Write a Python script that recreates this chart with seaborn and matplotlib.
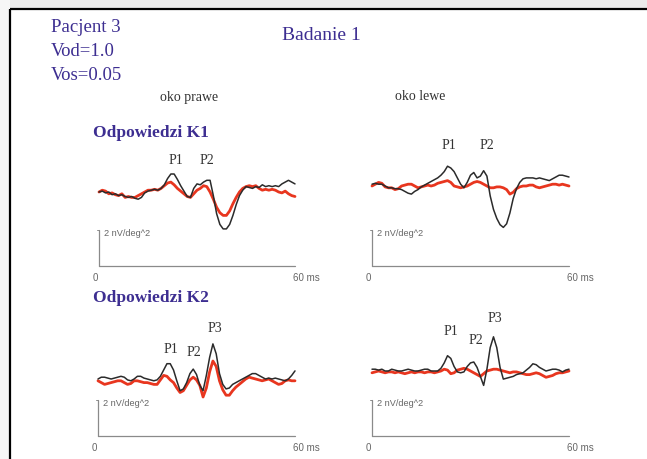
import numpy as np
import pandas as pd
import matplotlib
matplotlib.use("Agg")
import matplotlib.pyplot as plt
import seaborn as sns

# ---------------- data (nV/deg^2, one value per ms, 0..60 ms) ----------------
time_ms = list(range(61))

k1_right_black = [0.0, 0.05, -0.05, 0.0, -0.15, -0.1, -0.2, -0.15, -0.25, -0.3,
                  -0.25, -0.35, -0.4, -0.3, -0.05, 0.05, 0.1, 0.15, 0.1, 0.2,
                  0.4, 0.75, 1.0, 1.0, 0.7, 0.35, 0.05, -0.25, -0.3, 0.2,
                  0.45, 0.4, 0.55, 0.65, 0.65, -0.2, -1.2, -1.8, -2.05, -2.05,
                  -1.8, -1.3, -0.7, -0.2, 0.1, 0.3, 0.25, 0.2, 0.3, 0.25,
                  0.4, 0.3, 0.35, 0.3, 0.35, 0.3, 0.45, 0.55, 0.65, 0.55, 0.45]
k1_right_red = [0.0, 0.1, 0.05, -0.1, -0.05, -0.15, -0.2, -0.1, -0.3, -0.25,
                -0.3, -0.3, -0.2, -0.1, 0.0, 0.1, 0.1, 0.15, 0.1, 0.2,
                0.35, 0.5, 0.55, 0.4, 0.2, 0.05, -0.1, -0.25, -0.3, -0.1,
                0.1, 0.2, 0.35, 0.3, 0.0, -0.4, -0.85, -1.15, -1.3, -1.3,
                -1.05, -0.65, -0.3, 0.0, 0.2, 0.3, 0.35, 0.3, 0.35, 0.2,
                0.1, 0.15, 0.1, 0.15, 0.1, 0.0, -0.05, 0.05, -0.1, -0.2, -0.25]
k1_left_black = [0.1, 0.15, 0.1, 0.1, 0.0, -0.1, -0.1, -0.15, -0.15, -0.2,
                 -0.3, -0.4, -0.45, -0.3, -0.2, -0.05, 0.05, 0.15, 0.25, 0.35,
                 0.45, 0.6, 0.8, 1.1, 1.0, 0.8, 0.45, 0.1, -0.1, 0.2,
                 0.6, 0.75, 0.45, 0.55, 0.85, 0.55, -0.55, -1.3, -1.8, -2.15,
                 -2.3, -2.1, -1.5, -0.7, -0.15, 0.2, 0.4, 0.45, 0.45, 0.45,
                 0.4, 0.45, 0.4, 0.35, 0.3, 0.4, 0.5, 0.6, 0.6, 0.55, 0.5]
k1_left_red = [0.0, 0.1, 0.2, 0.15, -0.05, -0.1, -0.1, -0.2, -0.15, 0.0,
               0.05, 0.1, 0.1, 0.0, -0.1, -0.05, 0.0, 0.05, 0.0, 0.05,
               0.15, 0.2, 0.25, 0.3, 0.2, 0.0, -0.05, -0.1, -0.05, 0.0,
               0.1, 0.2, 0.25, 0.2, 0.1, 0.0, -0.1, -0.1, -0.05, -0.05,
               -0.1, -0.2, -0.45, -0.35, -0.15, -0.05, 0.0, 0.0, 0.05, 0.05,
               -0.05, -0.1, -0.05, 0.0, 0.05, 0.1, 0.1, 0.05, 0.1, 0.05, 0.0]
k2_right_black = [0.0, 0.1, 0.1, 0.05, 0.0, 0.05, 0.1, 0.15, 0.1, -0.05,
                  -0.1, 0.0, 0.15, 0.15, 0.05, 0.0, -0.05, -0.1, -0.05, 0.15,
                  0.5, 0.85, 0.85, 0.5, -0.1, -0.65, -0.55, -0.2, 0.3, 0.55,
                  0.25, -0.35, -0.65, 0.2, 1.2, 1.95, 1.4, 0.3, -0.3, -0.55,
                  -0.5, -0.3, -0.2, -0.1, 0.0, 0.1, 0.2, 0.3, 0.3, 0.2,
                  0.1, 0.0, 0.05, 0.0, 0.05, 0.0, -0.05, -0.1, 0.0, 0.2, 0.45]
k2_right_red = [-0.1, -0.2, -0.3, -0.25, -0.2, -0.15, -0.1, -0.1, -0.2, -0.3,
                -0.25, -0.1, -0.1, -0.15, -0.2, -0.2, -0.25, -0.3, -0.3, -0.05,
                0.2, 0.15, -0.05, -0.2, -0.5, -0.75, -0.65, -0.35, -0.05, 0.1,
                -0.05, -0.35, -1.0, -0.5, 0.4, 1.0, 0.7, -0.1, -0.6, -0.9,
                -0.9, -0.65, -0.45, -0.3, -0.15, 0.0, 0.1, 0.05, 0.0, -0.05,
                -0.1, -0.05, 0.0, -0.1, -0.2, -0.3, -0.25, -0.1, -0.05, -0.1, -0.1]
k2_left_black = [0.1, 0.1, 0.05, 0.1, 0.0, 0.0, 0.1, 0.05, 0.0, 0.0,
                 0.05, 0.1, 0.05, 0.0, 0.0, 0.05, 0.1, 0.1, 0.0, 0.0,
                 0.0, 0.15, 0.45, 0.85, 0.7, 0.25, -0.05, -0.1, -0.05, 0.25,
                 0.45, 0.5, 0.2, -0.3, -0.8, 0.1, 1.3, 1.9, 1.3, 0.2,
                 -0.45, -0.4, -0.35, -0.3, -0.2, -0.15, -0.1, 0.05, 0.2, 0.4,
                 0.35, 0.2, 0.1, 0.0, 0.05, 0.1, 0.1, 0.05, -0.05, 0.05, 0.1]
k2_left_red = [-0.1, -0.05, 0.0, -0.05, -0.1, -0.05, -0.05, -0.1, -0.05, -0.1,
               -0.15, -0.1, -0.05, -0.1, -0.05, -0.05, -0.1, -0.05, -0.05, -0.1,
               -0.05, 0.0, 0.1, 0.05, -0.15, -0.1, 0.05, 0.1, 0.15, 0.1,
               0.0, -0.1, -0.2, -0.3, -0.15, 0.0, 0.05, 0.1, 0.1, 0.05,
               0.0, -0.05, -0.1, -0.05, -0.05, -0.1, -0.15, -0.2, -0.2, -0.15,
               -0.1, -0.15, -0.25, -0.35, -0.3, -0.25, -0.15, -0.1, -0.1, -0.05, 0.0]

peak_labels_k1 = ["P1", "P2"]
peak_labels_k2 = ["P1", "P2", "P3"]
scale_label = "2 nV/deg^2"
axis_start_label = "0"
axis_end_label = "60 ms"

# ---------------- layout ----------------
W, H = 647, 460
UPP = 18.0  # pixels per nV/deg^2 unit
RED = "#e8361f"
BLACK = "#2b2b2b"
PURPLE = "#3d2e91"
SERIF = ["Liberation Serif", "DejaVu Serif"]
SANS = ["Liberation Sans", "DejaVu Sans"]

sns.set_theme(style="white")
plt.rcParams["font.family"] = SANS

fig = plt.figure(figsize=(W / 100, H / 100), dpi=100)
fig.patch.set_facecolor("white")

# background axes in pixel coordinates for frame & text
bg = fig.add_axes([0, 0, 1, 1])
bg.set_xlim(0, W)
bg.set_ylim(H, 0)
bg.axis("off")
bg.add_patch(plt.Rectangle((0, 0), W, 9.5, color="#ebebeb", lw=0, zorder=0))
bg.add_patch(plt.Rectangle((0, 0), 9.5, H, color="#f6f6f6", lw=0, zorder=0))
bg.plot([10, W], [10, 10], color="black", lw=1.6, solid_capstyle="butt")
bg.plot([10, 10], [10, H], color="black", lw=1.6, solid_capstyle="butt")

bg.text(51, 27, "Pacjent 3", family=SERIF, fontsize=13.5, color=PURPLE, va="center", ha="left")
bg.text(51, 51, "Vod=1.0", family=SERIF, fontsize=13.5, color=PURPLE, va="center", ha="left")
bg.text(51, 75, "Vos=0.05", family=SERIF, fontsize=13.5, color=PURPLE, va="center", ha="left")
bg.text(321, 36, "Badanie 1", family=SERIF, fontsize=14, color=PURPLE, va="center", ha="center")
bg.text(189, 97, "oko prawe", family=SERIF, fontsize=10, color="#333333", va="center", ha="center")
bg.text(420, 97, "oko lewe", family=SERIF, fontsize=10, color="#333333", va="center", ha="center")
bg.text(93, 133, "Odpowiedzi K1", family=SERIF, fontsize=12.5, fontweight="bold", color=PURPLE, va="center", ha="left")
bg.text(93, 298, "Odpowiedzi K2", family=SERIF, fontsize=12.5, fontweight="bold", color=PURPLE, va="center", ha="left")

panels = [
    # x0, x60, baseline y, scale-bar bottom (units), black, red, labels, label px positions
    (99, 295, 193, -4.1, k1_right_black, k1_right_red, peak_labels_k1,
     [(176, 161), (207, 161)]),
    (372, 569, 187, -4.45, k1_left_black, k1_left_red, peak_labels_k1,
     [(449, 146), (487, 146)]),
    (98, 295, 380, -3.15, k2_right_black, k2_right_red, peak_labels_k2,
     [(171, 350), (194, 353), (215, 329)]),
    (372, 569, 372, -3.6, k2_left_black, k2_left_red, peak_labels_k2,
     [(451, 332), (476, 341), (495, 319)]),
]

for x0, x60, base, bar_bot, blk, red, labels, lpos in panels:
    ppm = (x60 - x0) / 60.0
    left = x0 - 3 * ppm
    width = 66 * ppm
    top = base - 3 * UPP
    height = 8 * UPP
    ax = fig.add_axes([left / W, 1 - (top + height) / H, width / W, height / H])
    ax.set_xlim(-3, 63)
    ax.set_ylim(-5, 3)
    ax.axis("off")
    ax.patch.set_alpha(0)

    df = pd.DataFrame({"t": time_ms, "black": blk, "red": red})
    sns.lineplot(data=df, x="t", y="red", ax=ax, color=RED, linewidth=2.0, zorder=2)
    sns.lineplot(data=df, x="t", y="black", ax=ax, color=BLACK, linewidth=1.1, zorder=3)

    bar_top = bar_bot + 2
    ax.plot([0, 0], [bar_bot, bar_top], color="#8a8a8a", lw=0.9)
    ax.plot([0, 60], [bar_bot, bar_bot], color="#8a8a8a", lw=0.9)
    ax.plot([-0.6, 0], [bar_top, bar_top], color="#8a8a8a", lw=0.7)
    ax.text(1.5, bar_top - 0.15, scale_label, fontsize=6.6, color="#666666", va="center", ha="left")
    ax.text(-1.2, bar_bot - 0.35, axis_start_label, fontsize=7, color="#666666", va="top", ha="center")
    ax.text(59.3, bar_bot - 0.35, axis_end_label, fontsize=7, color="#666666", va="top", ha="left")

    for lab, (px, py) in zip(labels, lpos):
        bg.text(px, py, lab, family=SERIF, fontsize=10, color="#333333", va="center", ha="center")

fig.savefig("out.png", dpi=100)
